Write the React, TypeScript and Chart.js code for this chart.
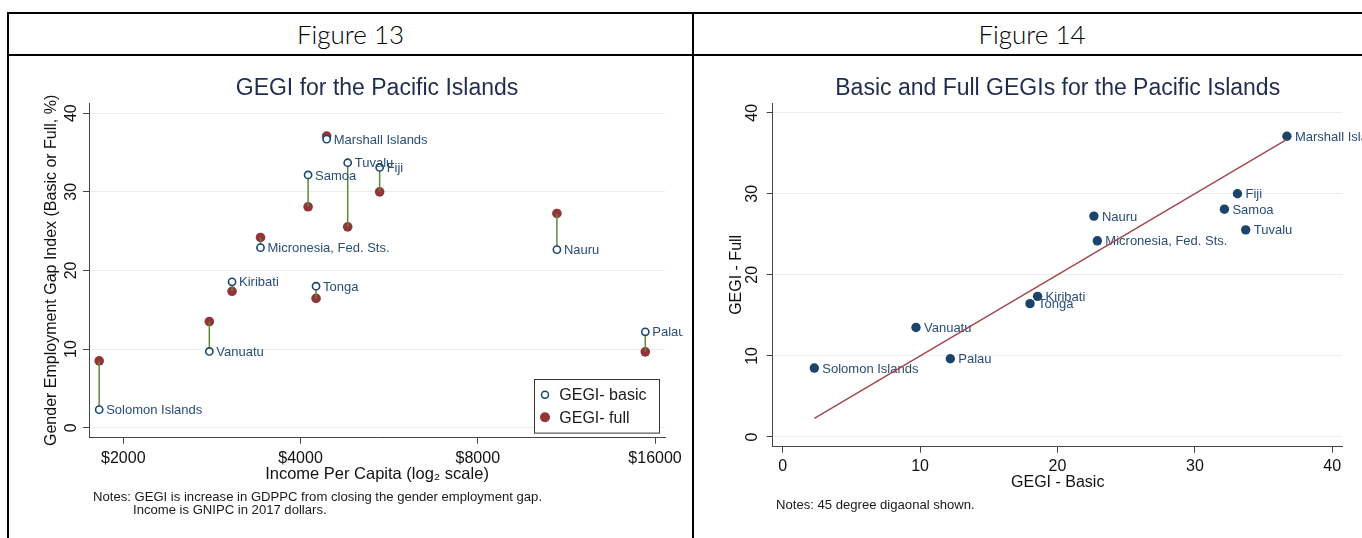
import React, { useEffect, useRef } from 'react';
import { Chart, registerables } from 'chart.js';

Chart.register(...registerables);

// ---------------- data ----------------
const countries = [
  'Solomon Islands',
  'Vanuatu',
  'Kiribati',
  'Micronesia, Fed. Sts.',
  'Samoa',
  'Tonga',
  'Marshall Islands',
  'Tuvalu',
  'Fiji',
  'Nauru',
  'Palau',
];
const incomePerCapita = [1820, 2800, 3060, 3420, 4120, 4250, 4430, 4810, 5450, 10900, 15400];
const gegiBasic = [2.3, 9.7, 18.55, 22.9, 32.15, 18.0, 36.7, 33.7, 33.1, 22.65, 12.2];
const gegiFull = [8.5, 13.5, 17.35, 24.2, 28.1, 16.45, 37.1, 25.55, 30.0, 27.25, 9.65];
const incomeTicks = [2000, 4000, 8000, 16000];
const gegiTicks = [0, 10, 20, 30, 40];

// ---------------- styles ----------------
const FONT = "'Liberation Sans', Arial, Helvetica, sans-serif";
const NAVY = '#1a476f';
const NAVY_DOT = '#1a446b';
const MAROON = '#93333a';
const GREEN = '#62883a';
const DIAG = '#a3454a';
const LABEL = '#2a4d78';
const TITLE = '#1e2c4f';
const AXIS = '#444444';
const GRID = '#e6eef1';
const TEXT = '#111111';

const pointLabels = {
  id: 'pointLabels',
  afterDatasetDraw(chart: any, args: any, opts: any) {
    if (!opts || !opts.labels || args.index !== opts.datasetIndex) return;
    const meta = chart.getDatasetMeta(args.index);
    const ctx = chart.ctx;
    ctx.save();
    ctx.font = `13px ${FONT}`;
    ctx.fillStyle = opts.color;
    ctx.textAlign = 'left';
    ctx.textBaseline = 'middle';
    meta.data.forEach((pt: any, i: number) => {
      ctx.fillText(opts.labels[i], pt.x + opts.offset, pt.y + 1);
    });
    ctx.restore();
  },
};

const boxLegend = {
  id: 'boxLegend',
  afterDraw(chart: any, _args: any, opts: any) {
    if (!opts || !opts.items) return;
    const { ctx, chartArea } = chart;
    const w = 125;
    const h = 53.6;
    const x0 = chartArea.right - 5.7 - w;
    const y0 = chartArea.bottom - 5.4 - h;
    ctx.save();
    ctx.fillStyle = '#ffffff';
    ctx.fillRect(x0, y0, w, h);
    ctx.strokeStyle = '#333333';
    ctx.lineWidth = 1;
    ctx.strokeRect(Math.round(x0) + 0.5, Math.round(y0) + 0.5, w, h);
    ctx.font = `16px ${FONT}`;
    ctx.textAlign = 'left';
    ctx.textBaseline = 'middle';
    opts.items.forEach((it: any, i: number) => {
      const cy = y0 + 16 + i * 22.6;
      const cx = x0 + 10.7;
      ctx.beginPath();
      ctx.arc(cx, cy, it.radius, 0, Math.PI * 2);
      if (it.hollow) {
        ctx.fillStyle = '#ffffff';
        ctx.fill();
        ctx.strokeStyle = it.color;
        ctx.lineWidth = 1.5;
        ctx.stroke();
      } else {
        ctx.fillStyle = it.color;
        ctx.fill();
      }
      ctx.fillStyle = '#1a1a1a';
      ctx.fillText(it.text, x0 + 25, cy + 1);
    });
    ctx.restore();
  },
};

const setTicks = (values: number[]) => (scale: any) => {
  scale.ticks = values.map((v) => ({ value: v }));
};

const titleOpts = (text: string) => ({
  display: true,
  text,
  color: TITLE,
  fullSize: false,
  font: { family: FONT, size: 23, weight: 'normal' },
  padding: { top: 14.7, bottom: 0.7 },
});

function buildFig13(): any {
  return {
    type: 'scatter',
    data: {
      datasets: [
        {
          label: 'GEGI- basic',
          data: incomePerCapita.map((x, i) => ({ x, y: gegiBasic[i] })),
          pointRadius: 3.6,
          pointBorderWidth: 1.6,
          pointBorderColor: NAVY,
          pointBackgroundColor: '#ffffff',
        },
        ...countries.map((c, i) => ({
          label: c,
          data: [
            { x: incomePerCapita[i], y: gegiBasic[i] },
            { x: incomePerCapita[i], y: gegiFull[i] },
          ],
          showLine: true,
          borderColor: GREEN,
          borderWidth: 1.5,
          pointRadius: 0,
        })),
        {
          label: 'GEGI- full',
          data: incomePerCapita.map((x, i) => ({ x, y: gegiFull[i] })),
          pointRadius: 4.8,
          pointBorderWidth: 0,
          pointBackgroundColor: MAROON,
          pointBorderColor: MAROON,
        },
      ],
    },
    options: {
      animation: false,
      responsive: false,
      events: [],
      layout: { padding: { left: 0, right: 65, top: 0, bottom: 0 } },
      plugins: {
        legend: { display: false },
        tooltip: { enabled: false },
        title: titleOpts('GEGI for the Pacific Islands'),
        pointLabels: { datasetIndex: 0, labels: countries, color: LABEL, offset: 7 },
        boxLegend: {
          items: [
            { text: 'GEGI- basic', color: NAVY, hollow: true, radius: 3.5 },
            { text: 'GEGI- full', color: MAROON, hollow: false, radius: 5 },
          ],
        },
      },
      scales: {
        x: {
          type: 'logarithmic',
          min: 1749,
          max: 16634,
          afterBuildTicks: setTicks(incomeTicks),
          afterFit: (s: any) => {
            s.height = 100.3;
          },
          ticks: {
            callback: (v: any) => '$' + v,
            autoSkip: false,
            minRotation: 0,
            maxRotation: 0,
            padding: 5,
            color: TEXT,
            font: { family: FONT, size: 16 },
          },
          grid: { drawOnChartArea: false, drawTicks: true, tickLength: 6, tickColor: AXIS, tickWidth: 1 },
          border: { display: true, color: AXIS, width: 1 },
          title: {
            display: true,
            text: 'Income Per Capita (log₂ scale)',
            color: TEXT,
            font: { family: FONT, size: 16.5 },
            padding: { top: 0, bottom: 54.1 },
          },
        },
        y: {
          type: 'linear',
          min: -1.27,
          max: 41.3,
          afterBuildTicks: setTicks(gegiTicks),
          afterFit: (s: any) => {
            s.width = 79;
          },
          ticks: {
            minRotation: 90,
            maxRotation: 90,
            crossAlign: 'center',
            padding: 3,
            color: TEXT,
            font: { family: FONT, size: 16 },
          },
          grid: { color: GRID, lineWidth: 1, drawTicks: true, tickLength: 6, tickColor: AXIS, tickWidth: 1 },
          border: { display: true, color: AXIS, width: 1 },
          title: {
            display: true,
            text: 'Gender Employment Gap Index (Basic or Full, %)',
            color: TEXT,
            font: { family: FONT, size: 16 },
            padding: { top: 32.4, bottom: 0 },
          },
        },
      },
    },
    plugins: [pointLabels, boxLegend],
  };
}

function buildFig14(): any {
  const lo = Math.min(...gegiBasic);
  const hi = Math.max(...gegiBasic);
  return {
    type: 'scatter',
    data: {
      datasets: [
        {
          label: '45 degree line',
          data: [
            { x: lo, y: lo },
            { x: hi, y: hi },
          ],
          showLine: true,
          borderColor: DIAG,
          borderWidth: 1.4,
          pointRadius: 0,
        },
        {
          label: 'GEGI',
          data: gegiBasic.map((x, i) => ({ x, y: gegiFull[i] })),
          pointRadius: 4.7,
          pointBorderWidth: 0,
          pointBackgroundColor: NAVY_DOT,
          pointBorderColor: NAVY_DOT,
        },
      ],
    },
    options: {
      animation: false,
      responsive: false,
      events: [],
      layout: { padding: { left: 0, right: 73.3, top: 0, bottom: 0 } },
      plugins: {
        legend: { display: false },
        tooltip: { enabled: false },
        title: titleOpts('Basic and Full GEGIs for the Pacific Islands'),
        pointLabels: { datasetIndex: 1, labels: countries, color: LABEL, offset: 8 },
      },
      scales: {
        x: {
          type: 'linear',
          min: -0.73,
          max: 40.76,
          afterBuildTicks: setTicks(gegiTicks),
          afterFit: (s: any) => {
            s.height = 91.3;
          },
          ticks: {
            autoSkip: false,
            minRotation: 0,
            maxRotation: 0,
            padding: 4.4,
            color: TEXT,
            font: { family: FONT, size: 16 },
          },
          grid: { drawOnChartArea: false, drawTicks: true, tickLength: 6, tickColor: AXIS, tickWidth: 1 },
          border: { display: true, color: AXIS, width: 1 },
          title: {
            display: true,
            text: 'GEGI - Basic',
            color: TEXT,
            font: { family: FONT, size: 16 },
            padding: { top: 0, bottom: 45.7 },
          },
        },
        y: {
          type: 'linear',
          min: -1.2,
          max: 41.2,
          afterBuildTicks: setTicks(gegiTicks),
          afterFit: (s: any) => {
            s.width = 76.7;
          },
          ticks: {
            minRotation: 90,
            maxRotation: 90,
            crossAlign: 'center',
            padding: 5,
            color: TEXT,
            font: { family: FONT, size: 16 },
          },
          grid: { color: GRID, lineWidth: 1, drawTicks: true, tickLength: 6, tickColor: AXIS, tickWidth: 1 },
          border: { display: true, color: AXIS, width: 1 },
          title: {
            display: true,
            text: 'GEGI - Full',
            color: TEXT,
            font: { family: FONT, size: 16 },
            padding: { top: 31, bottom: 0 },
          },
        },
      },
    },
    plugins: [pointLabels],
  };
}

function ChartCanvas({ build, width, height }: { build: () => any; width: number; height: number }) {
  const ref = useRef<HTMLCanvasElement | null>(null);
  useEffect(() => {
    if (!ref.current) return;
    const chart = new Chart(ref.current, build());
    return () => chart.destroy();
  }, [build]);
  return <canvas ref={ref} width={width} height={height} style={{ display: 'block', width, height }} />;
}

const line = (left: number, top: number, width: number, height: number) => (
  <div style={{ position: 'absolute', left, top, width, height, background: '#000' }} />
);

const headerStyle: React.CSSProperties = {
  position: 'absolute',
  top: 14,
  height: 40,
  display: 'flex',
  alignItems: 'center',
  justifyContent: 'center',
  fontFamily: "Lato, 'Open Sans', sans-serif",
  fontSize: 26,
  fontWeight: 300,
  color: '#000',
};

const noteStyle: React.CSSProperties = {
  position: 'absolute',
  fontFamily: FONT,
  fontSize: 13.1,
  lineHeight: '13px',
  color: '#1a1a1a',
  whiteSpace: 'nowrap',
};

export default function App() {
  return (
    <div
      style={{
        position: 'fixed',
        left: 0,
        top: 0,
        width: 1362,
        height: 538,
        overflow: 'hidden',
        background: '#ffffff',
      }}
    >
      {line(7, 12, 1400, 2)}
      {line(7, 54, 1400, 2)}
      {line(7, 12, 2, 560)}
      {line(692, 12, 2, 560)}
      <div style={{ ...headerStyle, left: 9, width: 683 }}>Figure 13</div>
      <div style={{ ...headerStyle, left: 694, width: 676 }}>Figure 14</div>

      <div style={{ position: 'absolute', left: 10, top: 60, width: 673, height: 478, overflow: 'hidden' }}>
        <ChartCanvas build={buildFig13} width={720} height={478} />
      </div>
      <div style={{ ...noteStyle, left: 93, top: 489.5 }}>
        Notes: GEGI is increase in GDPPC from closing the gender employment gap.
      </div>
      <div style={{ ...noteStyle, left: 133, top: 502.5 }}>Income is GNIPC in 2017 dollars.</div>

      <div style={{ position: 'absolute', left: 696, top: 60, width: 666, height: 478, overflow: 'hidden' }}>
        <ChartCanvas build={buildFig14} width={720} height={478} />
      </div>
      <div style={{ ...noteStyle, left: 776, top: 497.5 }}>Notes: 45 degree digaonal shown.</div>
    </div>
  );
}
